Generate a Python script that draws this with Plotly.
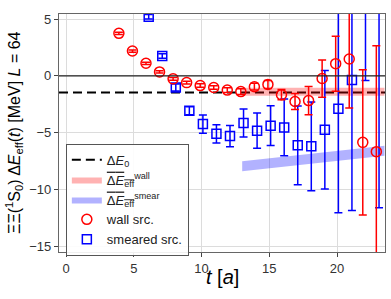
import plotly.graph_objects as go

# ---- data ----
t_wall = [4, 5, 6, 7, 8, 9, 10, 11, 12, 13, 14, 15, 16, 17, 18, 19, 20, 21, 22, 23]
e_wall = [3.75, 2.19, 1.11, 0.35, -0.26, -0.59, -0.85, -1.02, -1.25, -1.38, -0.95, -0.75,
          -1.65, -2.25, -2.17, -0.23, 1.08, 1.49, -5.85, -6.67]
err_wall = [0.1, 0.1, 0.1, 0.1, 0.12, 0.12, 0.15, 0.15, 0.2, 0.25, 0.3, 0.35,
            0.45, 0.7, 1.24, 1.64, 2.42, 4.32, 6.4, 9.33]

t_smear = [6, 7, 8, 9, 10, 11, 12, 13, 14, 15, 16, 17, 18, 19, 20, 21, 22, 23]
e_smear = [5.2, 1.75, -1.02, -3.07, -4.24, -5.1, -5.3, -4.15, -4.82, -4.38, -4.53,
           -6.11, -6.2, -4.74, -2.89, -0.35, 6.5, 7.0]
err_smear = [0.2, 0.2, 0.3, 0.35, 0.8, 0.8, 0.93, 1.23, 1.55, 1.75, 2.49,
             3.47, 3.9, 5.22, 9.16, 11.5, 6.9, 18.6]

dE0 = -1.45
band_t = [13, 23.5]
wall_band_lo = [-1.75, -1.75]
wall_band_hi = [-1.05, -1.05]
smear_band_lo = [-8.4, -7.02]
smear_band_hi = [-7.52, -6.14]

x_range = [-0.52, 23.54]
y_range = [-15.5, 5.45]
x_ticks = [0, 5, 10, 15, 20]
y_ticks = [5, 0, -5, -10, -15]

shift = 0.1

fig = go.Figure()

# dashed Delta E0
fig.add_trace(go.Scatter(
    x=x_range, y=[dE0, dE0], mode="lines",
    line=dict(color="black", width=2, dash="9px,5px"),
    name="Δ<i>E</i><sub>0</sub>", legendrank=1))

# wall band
fig.add_trace(go.Scatter(
    x=band_t + band_t[::-1], y=wall_band_hi + wall_band_lo[::-1],
    fill="toself", fillcolor="rgba(255,0,0,0.3)", line=dict(width=0),
    mode="lines", legendrank=2,
    name='<span style="text-decoration:overline">Δ<i>E</i><sub>eff</sub></span><sup>wall</sup>'))

# smear band
fig.add_trace(go.Scatter(
    x=band_t + band_t[::-1], y=smear_band_hi + smear_band_lo[::-1],
    fill="toself", fillcolor="rgba(0,0,255,0.3)", line=dict(width=0),
    mode="lines", legendrank=3,
    name='<span style="text-decoration:overline">Δ<i>E</i><sub>eff</sub></span><sup>smear</sup>'))

# smeared points
fig.add_trace(go.Scatter(
    x=[t + shift for t in t_smear], y=e_smear, mode="markers",
    marker=dict(symbol="square-open", size=9, color="blue", line=dict(width=1.5)),
    error_y=dict(type="data", array=err_smear, color="blue", thickness=1.5, width=4),
    name="smeared src.", legendrank=5))

# wall points
fig.add_trace(go.Scatter(
    x=[t - shift for t in t_wall], y=e_wall, mode="markers",
    marker=dict(symbol="circle-open", size=10, color="red", line=dict(width=1.5)),
    error_y=dict(type="data", array=err_wall, color="red", thickness=1.5, width=4),
    name="wall src.", legendrank=4))

fig.add_shape(type="line", xref="paper", x0=0, x1=1, yref="y", y0=0, y1=0,
              line=dict(color="#222", width=1.3), layer="above")

axis_common = dict(
    showgrid=True, gridcolor="#dcdcdc", gridwidth=1,
    showline=True, linecolor="#666", linewidth=1.2, mirror=True,
    ticks="outside", ticklen=4, tickcolor="#444",
    zeroline=False, automargin=False,
    tickfont=dict(family="Liberation Sans, Arial", size=13, color="#333"),
)

fig.update_layout(
    width=391, height=299,
    margin=dict(l=59, r=6, t=14, b=47),
    paper_bgcolor="white", plot_bgcolor="white",
    font=dict(family="Liberation Sans, Arial", color="black"),
    xaxis=dict(range=x_range, tickvals=x_ticks, **axis_common),
    yaxis=dict(range=y_range, tickvals=y_ticks, **axis_common,
               ticktext=[str(v).replace("-", "−") for v in y_ticks]),
    legend=dict(x=0.021, y=0.455, xanchor="left", yanchor="top",
                bgcolor="rgba(255,255,255,0.9)", bordercolor="#555", borderwidth=1,
                font=dict(size=13, color="#222"), tracegroupgap=0, itemwidth=30,
                traceorder="normal"),
    showlegend=True,
    annotations=[
        dict(text="<i>t</i> [<i>a</i>]", xref="paper", yref="paper",
             x=0.5, y=-0.105, xanchor="center", yanchor="middle",
             showarrow=False, font=dict(size=20, color="black")),
        dict(text="ΞΞ(<sup>1</sup>S<sub>0</sub>) Δ<i>E</i><sub>eff</sub>(<i>t</i>) [MeV] <i>L</i> = 64",
             xref="paper", yref="paper", x=-0.138, y=0.5, textangle=-90,
             xanchor="center", yanchor="middle",
             showarrow=False, font=dict(size=16, color="black")),
    ],
)

fig.write_html("out.html", config={"displayModeBar": False},
               post_script="document.body.style.margin='0';document.body.style.overflow='hidden';")
